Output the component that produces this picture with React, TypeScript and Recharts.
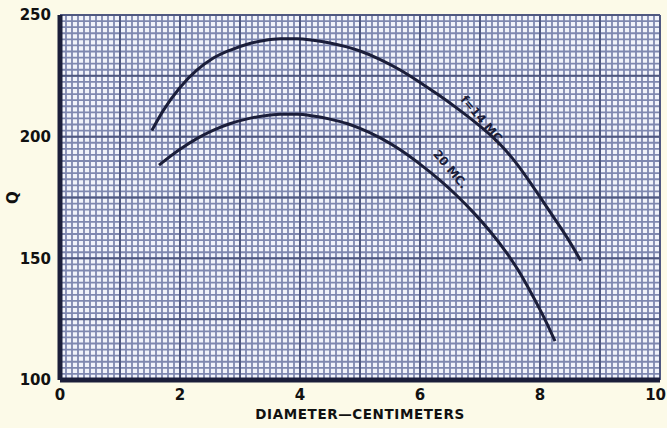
import { LineChart, Line, CartesianGrid, XAxis, YAxis, ReferenceDot } from "recharts";

// f = 14 MC curve
const upperX = [1.53, 1.72, 2.0, 2.28, 2.55, 2.83, 3.12, 3.38, 3.67, 3.95, 4.22, 4.5, 4.78, 5.0, 5.33, 5.67, 6.0, 6.33, 6.67, 7.0, 7.33, 7.62, 7.88, 8.17, 8.45, 8.68];
const upperQ = [202.5, 210.7, 220.2, 227.3, 232.2, 235.5, 238, 239.4, 240.2, 240.2, 239.6, 238.5, 236.9, 235.2, 231.8, 227.4, 222.3, 216.8, 210.7, 204.3, 197, 188.6, 179.6, 169, 158.6, 149];

// 20 MC curve
const lowerX = [1.65, 2.0, 2.28, 2.55, 2.83, 3.12, 3.38, 3.67, 3.95, 4.22, 4.5, 4.78, 5.0, 5.33, 5.67, 6.0, 6.33, 6.62, 6.88, 7.17, 7.45, 7.67, 7.83, 8.12, 8.25];
const lowerQ = [188.3, 194.8, 199.2, 202.6, 205.3, 207.3, 208.5, 209.2, 209.2, 208.5, 207.2, 205.4, 203.4, 199.6, 194.6, 188.7, 182.1, 175.6, 169.1, 161, 152, 143.8, 136.8, 123, 116];

const xTicks = [0, 2, 4, 6, 8, 10];
const yTicks = [100, 150, 200, 250];

// graph paper rulings (data units)
const fineX = Array.from({ length: 101 }, (_, i) => i / 10);
const fineY = Array.from({ length: 61 }, (_, i) => 100 + i * 2.5);
const heavyX = Array.from({ length: 11 }, (_, i) => i);
const heavyY = Array.from({ length: 7 }, (_, i) => 100 + i * 25);

const upper = upperX.map((x, i) => ({ x, y: upperQ[i] }));
const lower = lowerX.map((x, i) => ({ x, y: lowerQ[i] }));

const INK = "#1b1e3a";
const FONT = "'DejaVu Sans', sans-serif";
const X_DOMAIN = [0, 10];
const Y_DOMAIN = [100, 250];

const vGen = (vals: number[]) => (p: any) =>
  vals.map((v) => p.offset.left + ((v - X_DOMAIN[0]) / (X_DOMAIN[1] - X_DOMAIN[0])) * p.offset.width);
const hGen = (vals: number[]) => (p: any) =>
  vals.map((v) => p.offset.top + (1 - (v - Y_DOMAIN[0]) / (Y_DOMAIN[1] - Y_DOMAIN[0])) * p.offset.height);

const curveText = (text: string, angle: number) => (p: any) => (
  <text
    x={p.cx}
    y={p.cy - 6}
    transform={`rotate(${angle} ${p.cx} ${p.cy})`}
    textAnchor="middle"
    dominantBaseline="central"
    fontFamily={FONT}
    fontWeight="bold"
    fontSize={12}
    fill={INK}
  >
    {text}
  </text>
);

const XTick = (p: any) => {
  const last = p.payload.value === 10;
  return (
    <text
      x={last ? p.x + 7 : p.x}
      y={p.y}
      dy={12}
      textAnchor={last ? "end" : "middle"}
      fill="#111"
      fontSize={15}
      fontWeight="bold"
      fontFamily={FONT}
    >
      {p.payload.value}
    </text>
  );
};

export default function App() {
  return (
    <div style={{ position: "absolute", left: 0, top: 0, width: 667, height: 428, background: "#fcfae8" }}>
      <LineChart width={667} height={428} margin={{ top: 15, right: 7, left: 0, bottom: 0 }}>
        <CartesianGrid
          fill="#f1f3fa"
          stroke="#7f88b0"
          strokeWidth={1.8}
          verticalCoordinatesGenerator={vGen(fineX)}
          horizontalCoordinatesGenerator={hGen(fineY)}
        />
        <CartesianGrid
          stroke="#4f5880"
          strokeWidth={2}
          verticalCoordinatesGenerator={vGen(heavyX)}
          horizontalCoordinatesGenerator={hGen(heavyY)}
        />
        <XAxis
          type="number"
          dataKey="x"
          domain={X_DOMAIN}
          ticks={xTicks}
          allowDataOverflow
          height={48}
          tickLine={false}
          tickMargin={2}
          axisLine={{ stroke: INK, strokeWidth: 5 }}
          tick={<XTick />}
          label={{
            value: "DIAMETER\u2014CENTIMETERS",
            position: "insideBottom",
            offset: 9,
            fill: "#111",
            fontSize: 13.5,
            fontWeight: "bold",
            fontFamily: FONT,
            letterSpacing: 0.6,
          }}
        />
        <XAxis
          xAxisId="top"
          orientation="top"
          type="number"
          domain={X_DOMAIN}
          height={0}
          tick={false}
          tickLine={false}
          axisLine={{ stroke: INK, strokeWidth: 3 }}
        />
        <YAxis
          type="number"
          domain={Y_DOMAIN}
          ticks={yTicks}
          allowDataOverflow
          width={60}
          tickLine={false}
          tickMargin={3}
          axisLine={{ stroke: INK, strokeWidth: 5 }}
          tick={{ fill: "#111", fontSize: 15, fontWeight: "bold", fontFamily: FONT }}
          label={{
            content: (p: any) => {
              const vb = p.viewBox;
              const cx = 13;
              const cy = vb.y + vb.height / 2;
              return (
                <text
                  x={cx}
                  y={cy}
                  transform={`rotate(-90 ${cx} ${cy})`}
                  textAnchor="middle"
                  dominantBaseline="central"
                  fontFamily={FONT}
                  fontWeight="bold"
                  fontSize={15}
                  fill="#111"
                >
                  Q
                </text>
              );
            },
          }}
        />
        <YAxis
          yAxisId="right"
          orientation="right"
          type="number"
          domain={Y_DOMAIN}
          width={0}
          tick={false}
          tickLine={false}
          axisLine={{ stroke: INK, strokeWidth: 3 }}
        />
        <Line
          data={upper}
          dataKey="y"
          type="monotone"
          dot={false}
          stroke={INK}
          strokeWidth={3}
          isAnimationActive={false}
        />
        <Line
          data={lower}
          dataKey="y"
          type="monotone"
          dot={false}
          stroke={INK}
          strokeWidth={3}
          isAnimationActive={false}
        />
        <ReferenceDot x={6.97} y={205} r={0} shape={curveText("f=14 MC.", 50)} />
        <ReferenceDot x={6.43} y={185} r={0} shape={curveText("20 MC.", 50)} />
      </LineChart>
    </div>
  );
}
